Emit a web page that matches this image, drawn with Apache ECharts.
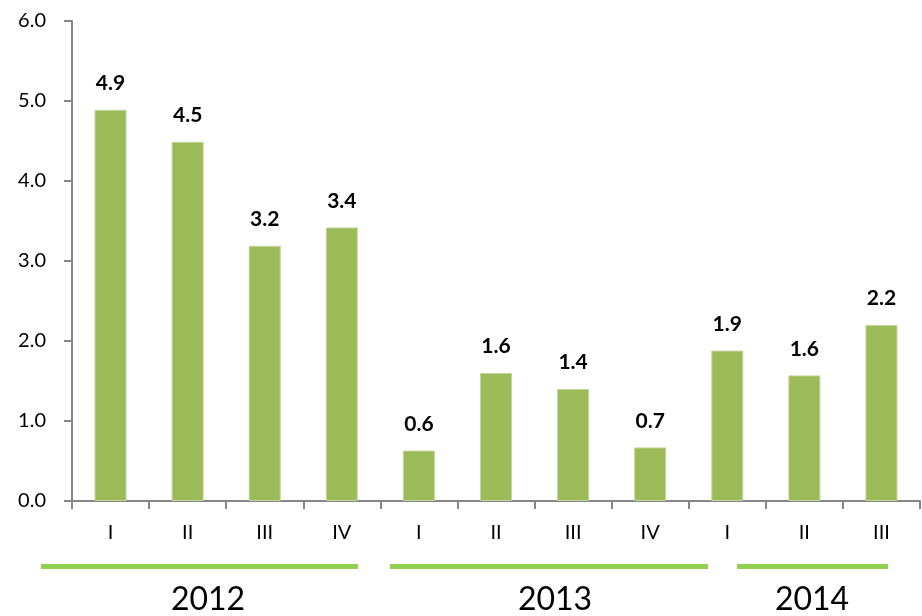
<!DOCTYPE html>
<html>
<head>
<meta charset="utf-8">
<script src="https://cdn.jsdelivr.net/npm/echarts@6/dist/echarts.min.js"></script>
<style>
  html, body { margin: 0; padding: 0; background: #fff; }
  #chart { width: 922px; height: 616px; }
</style>
</head>
<body>
<div id="chart"></div>
<script>
const quarters = ['I', 'II', 'III', 'IV', 'I', 'II', 'III', 'IV', 'I', 'II', 'III'];
const values = [4.89, 4.49, 3.19, 3.42, 0.63, 1.6, 1.4, 0.67, 1.88, 1.57, 2.2];
const years = ['2012', '2013', '2014'];
const yTicks = [0, 1, 2, 3, 4, 5, 6];

const font = 'Lato, "Open Sans", sans-serif';
const axisGray = '#868686';

// year bands under the axis (decorative shapes like the original)
const yearSpans = [[41, 358], [390, 708], [737, 888]];
const yearCenters = [208, 555, 812];

const graphics = [];
years.forEach((y, i) => {
  graphics.push({
    type: 'rect',
    shape: { x: yearSpans[i][0], y: 564, width: yearSpans[i][1] - yearSpans[i][0], height: 5 },
    style: { fill: '#92D050' }
  });
  graphics.push({
    type: 'text',
    x: yearCenters[i], y: 600,
    style: { text: y, font: '32px ' + font, fill: '#000', align: 'center', verticalAlign: 'middle' }
  });
});

const chart = echarts.init(document.getElementById('chart'));
chart.setOption({
  animation: false,
  grid: { left: 72, right: 2, top: 21, bottom: 115 },
  xAxis: {
    type: 'category',
    data: quarters,
    boundaryGap: true,
    axisLine: { lineStyle: { color: axisGray, width: 2 } },
    axisTick: { show: true, interval: 0, length: 8, lineStyle: { color: axisGray, width: 2 } },
    axisLabel: { interval: 0, margin: 22, fontSize: 20, color: '#000', fontFamily: font }
  },
  yAxis: {
    type: 'value',
    min: yTicks[0],
    max: yTicks[yTicks.length - 1],
    interval: 1,
    splitLine: { show: false },
    axisLine: { show: true, lineStyle: { color: axisGray, width: 2 } },
    axisTick: { show: true, length: 8, lineStyle: { color: axisGray, width: 2 } },
    axisLabel: {
      margin: 26, fontSize: 20, color: '#000', fontFamily: font,
      formatter: v => v.toFixed(1)
    }
  },
  series: [{
    type: 'bar',
    data: values,
    barWidth: 32,
    itemStyle: { color: '#9BBB59', borderColor: '#C3D69B', borderWidth: 1 },
    label: {
      show: true, position: 'top', distance: 16,
      fontSize: 21, fontWeight: 'bold', color: '#000', fontFamily: font,
      formatter: p => p.value.toFixed(1)
    }
  }],
  graphic: graphics
});
</script>
</body>
</html>
